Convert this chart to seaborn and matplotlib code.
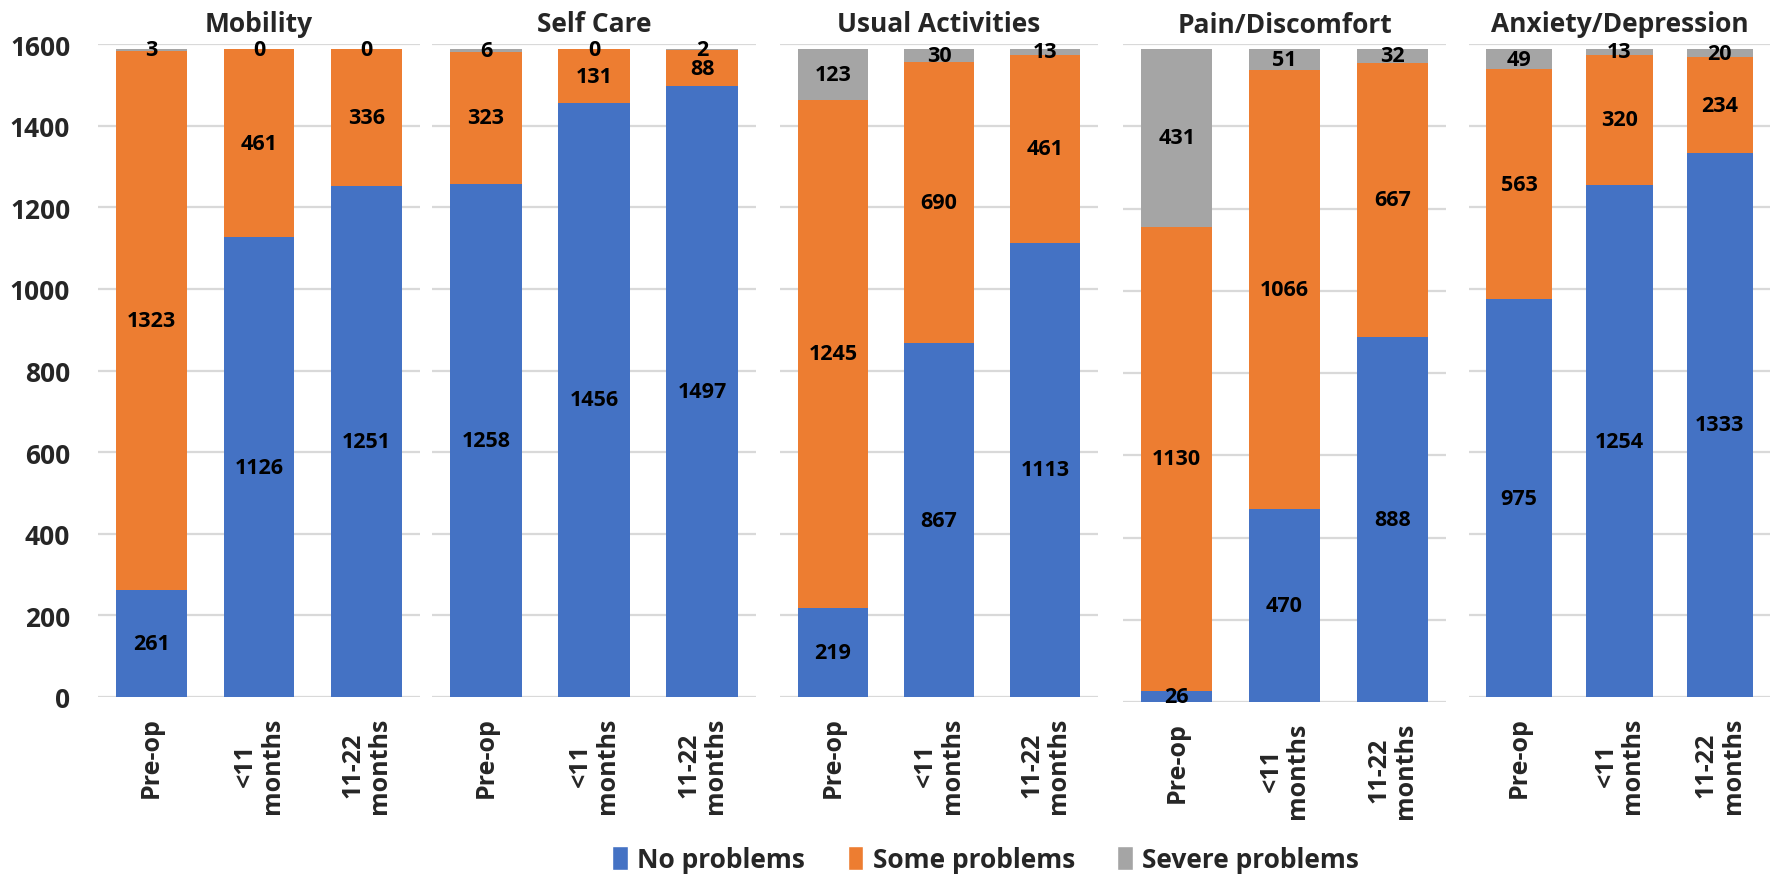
import numpy as np
import pandas as pd
import matplotlib
matplotlib.use("Agg")
import matplotlib.pyplot as plt
import seaborn as sns
from matplotlib.patches import Patch

# ---------------------------
# Data
# ---------------------------
dimensions = ["Mobility", "Self Care", "Usual Activities", "Pain/Discomfort", "Anxiety/Depression"]
timepoints = ["Pre-op", "<11\nmonths", "11-22\nmonths"]

no_problems = [
    [261, 1126, 1251],
    [1258, 1456, 1497],
    [219, 867, 1113],
    [26, 470, 888],
    [975, 1254, 1333],
]
some_problems = [
    [1323, 461, 336],
    [323, 131, 88],
    [1245, 690, 461],
    [1130, 1066, 667],
    [563, 320, 234],
]
severe_problems = [
    [3, 0, 0],
    [6, 0, 2],
    [123, 30, 13],
    [431, 51, 32],
    [49, 13, 20],
]

series_names = ["No problems", "Some problems", "Severe problems"]
colors = ["#4472C4", "#ED7D31", "#A5A5A5"]

# ---------------------------
# Style
# ---------------------------
sns.set_style("white")
plt.rcParams["font.family"] = ["Open Sans", "DejaVu Sans"]
plt.rcParams["font.weight"] = "bold"

W, H = 1776, 879
fig = plt.figure(figsize=(W / 100, H / 100), dpi=100)

# panel extents in pixels (left, right, bottom of zero line)
panel_px = [(98, 420, 698), (432, 756, 698), (780, 1098, 698), (1123, 1446, 703), (1469, 1770, 698)]
top_px = 45

for i, dim in enumerate(dimensions):
    left, right, bottom = panel_px[i]
    ax = fig.add_axes([left / W, (H - bottom) / H, (right - left) / W, (bottom - top_px) / H])

    df = pd.DataFrame({
        "time": timepoints,
        "no": no_problems[i],
        "some": some_problems[i],
        "severe": severe_problems[i],
    })
    df["no_some"] = df["no"] + df["some"]
    df["total"] = df["no_some"] + df["severe"]

    # stacked bars by overlaying cumulative totals
    for col, c in [("total", colors[2]), ("no_some", colors[1]), ("no", colors[0])]:
        sns.barplot(data=df, x="time", y=col, color=c, width=0.66, saturation=1,
                    linewidth=0, ax=ax, zorder=2)

    for j in range(len(timepoints)):
        n, s, sv = df.loc[j, "no"], df.loc[j, "some"], df.loc[j, "severe"]
        for val, mid in [(n, n / 2), (s, n + s / 2), (sv, n + s + sv / 2)]:
            ax.text(j, mid, str(val), ha="center", va="center", fontsize=15.5,
                    fontweight="bold", color="black", zorder=5)

    ax.set_ylim(0, 1600)
    ax.set_xlim(-0.5, 2.5)
    ax.set_yticks(range(0, 1601, 200))
    ax.yaxis.grid(True, color="#D9D9D9", linewidth=1.6, zorder=0)
    ax.set_axisbelow(True)
    for sp in ax.spines.values():
        sp.set_visible(False)
    ax.tick_params(axis="both", length=0)
    ax.set_xlabel("")
    ax.set_ylabel("")
    ax.set_title(dim, fontsize=19, fontweight="bold", pad=9)
    ax.set_xticks(range(len(timepoints)))
    ax.set_xticklabels(timepoints, rotation=90, fontsize=18, fontweight="bold",
                       multialignment="center", linespacing=1.1)
    ax.tick_params(axis="x", pad=14)
    if i == 0:
        ax.tick_params(axis="y", labelsize=19, pad=20)
        for lbl in ax.get_yticklabels():
            lbl.set_fontweight("bold")
    else:
        ax.set_yticklabels([])

handles = [Patch(facecolor=c, label=n) for c, n in zip(colors, series_names)]
fig.legend(handles=handles, loc="center", ncol=3, frameon=False,
           bbox_to_anchor=(0.555, 0.021), prop={"size": 19, "weight": "bold"},
           handlelength=0.6, handleheight=1.0, handletextpad=0.35, columnspacing=1.6)

fig.savefig("out.png", dpi=100)
